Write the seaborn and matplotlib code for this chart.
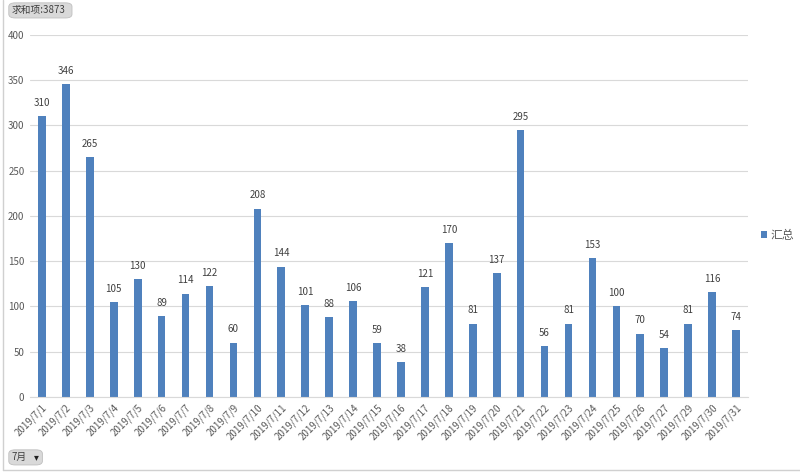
import numpy as np
import pandas as pd
import matplotlib
matplotlib.use('Agg')
import matplotlib.pyplot as plt
from matplotlib.patches import FancyBboxPatch
import seaborn as sns

dates = ['2019/7/1', '2019/7/2', '2019/7/3', '2019/7/4', '2019/7/5', '2019/7/6',
         '2019/7/7', '2019/7/8', '2019/7/9', '2019/7/10', '2019/7/11', '2019/7/12',
         '2019/7/13', '2019/7/14', '2019/7/15', '2019/7/16', '2019/7/17', '2019/7/18',
         '2019/7/19', '2019/7/20', '2019/7/21', '2019/7/22', '2019/7/23', '2019/7/24',
         '2019/7/25', '2019/7/26', '2019/7/27', '2019/7/29', '2019/7/30', '2019/7/31']
totals = [310, 346, 265, 105, 130, 89, 114, 122, 60, 208, 144, 101, 88, 106, 59,
          38, 121, 170, 81, 137, 295, 56, 81, 153, 100, 70, 54, 81, 116, 74]
y_ticks = [0, 50, 100, 150, 200, 250, 300, 350, 400]
sum_label = '求和项:3873'
filter_label = '7月'
series_name = '汇总'

sns.set_theme(style='white')
plt.rcParams['font.family'] = ['Noto Sans CJK SC', 'DejaVu Sans']

txt = '#595959'
bar_color = '#4F81BD'

df = pd.DataFrame({'date': dates, 'total': totals})

fig = plt.figure(figsize=(8, 4.73), dpi=100)
ax = fig.add_axes([0.0375, 0.161, 0.8975, 0.765])

sns.barplot(data=df, x='date', y='total', color=bar_color, width=0.32,
            saturation=1, linewidth=0, ax=ax, label=series_name)

for i, v in enumerate(totals):
    ax.annotate(str(v), (i, v), xytext=(0, 6), textcoords='offset points',
                ha='center', va='bottom', fontsize=7, color='#404040')

ax.set_ylim(0, 400)
ax.set_xlim(-0.5, len(dates) - 0.5)
ax.set_yticks(y_ticks)
ax.set_yticklabels([str(t) for t in y_ticks], fontsize=7, color=txt)
ax.set_xticks(range(len(dates)))
ax.set_xticklabels(dates, rotation=45, ha='right', rotation_mode='anchor',
                   fontsize=7, color=txt)
ax.tick_params(axis='both', length=0, pad=4)
ax.yaxis.grid(True, color='#D9D9D9', linewidth=0.8)
ax.set_axisbelow(True)
ax.set_xlabel('')
ax.set_ylabel('')
for s in ['top', 'right', 'left']:
    ax.spines[s].set_visible(False)
ax.spines['bottom'].set_color('#D9D9D9')
ax.spines['bottom'].set_linewidth(0.8)

leg = ax.legend(loc='center left', bbox_to_anchor=(1.003, 0.447), frameon=False,
                fontsize=8.5, handlelength=0.55, handleheight=0.55, handletextpad=0.3,
                labelcolor=txt)

# pivot chart buttons and outer frame
fig.add_artist(FancyBboxPatch((0.011, 0.962), 0.079, 0.032, boxstyle='round,pad=0,rounding_size=0.008',
                              transform=fig.transFigure, facecolor='#D9D9D9',
                              edgecolor='#BFBFBF', linewidth=0.6))
fig.text(0.015, 0.978, sum_label, fontsize=7, color='#404040', va='center', ha='left')
fig.add_artist(FancyBboxPatch((0.011, 0.017), 0.042, 0.032, boxstyle='round,pad=0,rounding_size=0.008',
                              transform=fig.transFigure, facecolor='#D9D9D9',
                              edgecolor='#BFBFBF', linewidth=0.6))
fig.text(0.015, 0.033, filter_label, fontsize=7, color='#404040', va='center', ha='left')
fig.text(0.045, 0.033, '▾', fontsize=7, color='#202020', va='center', ha='center')
fig.add_artist(plt.Line2D([0.004, 0.004], [0.006, 1.0], transform=fig.transFigure,
                          color='#D0D0D0', linewidth=1))
fig.add_artist(plt.Line2D([0.004, 1.0], [0.006, 0.006], transform=fig.transFigure,
                          color='#D0D0D0', linewidth=1))

fig.savefig('out.png', dpi=100)
